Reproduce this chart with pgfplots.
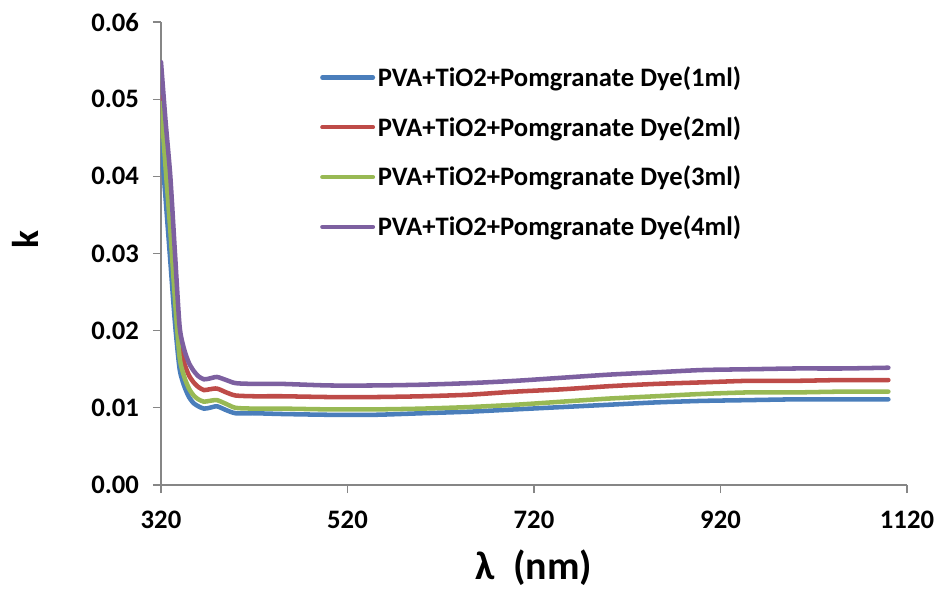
\documentclass[border=0pt]{standalone}
\usepackage{fontspec}
\setmainfont{Carlito}
\usepackage{pgfplots}
\pgfplotsset{compat=1.18}

\definecolor{ser1}{HTML}{4A7EBB}
\definecolor{ser2}{HTML}{BE4B48}
\definecolor{ser3}{HTML}{98B954}
\definecolor{ser4}{HTML}{7D60A0}
\definecolor{axgray}{HTML}{868686}

\begin{document}
\begin{tikzpicture}
\begin{axis}[
  at={(0,0)}, anchor=south west,
  scale only axis,
  width=559.5pt, height=347.25pt,
  xmin=320, xmax=1120,
  ymin=0, ymax=0.06,
  xtick={320,520,720,920,1120},
  ytick={0,0.01,0.02,0.03,0.04,0.05,0.06},
  axis x line*=bottom, axis y line*=left,
  axis line style={axgray, line width=0.9pt, -},
  tick style={axgray, line width=0.9pt},
  tick align=outside, major tick length=6pt,
  font=\fontsize{20}{22}\selectfont\bfseries,
  /pgf/number format/assume math mode=true,
  yticklabel style={/pgf/number format/fixed, /pgf/number format/fixed zerofill, /pgf/number format/precision=2, xshift=-7pt},
  scaled y ticks=false,
  xticklabel style={/pgf/number format/set thousands separator={}, yshift=-10pt},
  xlabel={\fontsize{30}{34}\selectfont\bfseries λ\ \ (nm)},
  ylabel={\fontsize{28}{32}\selectfont\bfseries k},
  every axis x label/.style={at={(rel axis cs:0.5,0)}, yshift=-62pt, anchor=center},
  every axis y label/.style={at={(rel axis cs:0,0.53)}, xshift=-102pt, rotate=90, anchor=center},
  legend cell align=left,
  legend style={at={(0.213,0.91)}, anchor=north west, draw=none, fill=none,
    row sep=17pt, font=\fontsize{20}{22}\selectfont\bfseries,
    inner sep=0pt},
  legend image code/.code={\draw[#1, line width=3.2pt, line cap=round] (0pt,0pt) -- (38pt,0pt);},
  every axis plot/.append style={line width=3.4pt, smooth, tension=0.4, line cap=round},
]
\addplot[ser1] coordinates {
(320,0.0447)(325,0.037)(330,0.029)(335,0.021)(340,0.0150)(345,0.0128)(350,0.0114)(355,0.0106)(360,0.0102)(366,0.0099)(372,0.0100)(380,0.0102)(390,0.0097)(400,0.0093)(420,0.0093)(450,0.0092)(500,0.0091)(550,0.0091)(600,0.0093)(650,0.0095)(700,0.0098)(750,0.0101)(800,0.0104)(850,0.0107)(900,0.0109)(950,0.0110)(1000,0.0111)(1050,0.0111)(1100,0.0111)
};
\addlegendentry{PVA+TiO2+Pomgranate Dye(1ml)}
\addplot[ser2] coordinates {
(320,0.052)(325,0.044)(330,0.036)(335,0.027)(340,0.019)(345,0.0158)(350,0.0142)(355,0.0133)(360,0.0127)(366,0.0123)(372,0.0124)(380,0.0125)(390,0.0120)(400,0.0116)(420,0.0115)(450,0.0115)(500,0.0114)(550,0.0114)(600,0.0115)(650,0.0117)(700,0.0121)(750,0.0124)(800,0.0128)(850,0.0131)(900,0.0133)(950,0.0135)(1000,0.0135)(1050,0.0136)(1100,0.0136)
};
\addlegendentry{PVA+TiO2+Pomgranate Dye(2ml)}
\addplot[ser3] coordinates {
(320,0.0495)(325,0.041)(330,0.033)(335,0.024)(340,0.0165)(345,0.0140)(350,0.0125)(355,0.0116)(360,0.0111)(366,0.0108)(372,0.0109)(380,0.0110)(390,0.0105)(400,0.0100)(420,0.0099)(450,0.0099)(500,0.0098)(550,0.0098)(600,0.0099)(650,0.0101)(700,0.0104)(750,0.0108)(800,0.0112)(850,0.0115)(900,0.0118)(950,0.0120)(1000,0.0120)(1050,0.0121)(1100,0.0121)
};
\addlegendentry{PVA+TiO2+Pomgranate Dye(3ml)}
\addplot[ser4] coordinates {
(320,0.0548)(325,0.047)(330,0.040)(335,0.030)(340,0.0205)(345,0.0175)(350,0.0158)(355,0.0148)(360,0.0141)(366,0.0137)(372,0.0138)(380,0.0140)(390,0.0136)(400,0.0132)(420,0.0131)(450,0.0131)(500,0.0129)(550,0.0129)(600,0.0130)(650,0.0132)(700,0.0135)(750,0.0139)(800,0.0143)(850,0.0146)(900,0.0149)(950,0.0150)(1000,0.0151)(1050,0.0151)(1100,0.0152)
};
\addlegendentry{PVA+TiO2+Pomgranate Dye(4ml)}
\end{axis}
\pgfresetboundingbox
\path (-120.75pt,-78.75pt) rectangle (582.75pt,363.75pt);
\end{tikzpicture}
\end{document}
